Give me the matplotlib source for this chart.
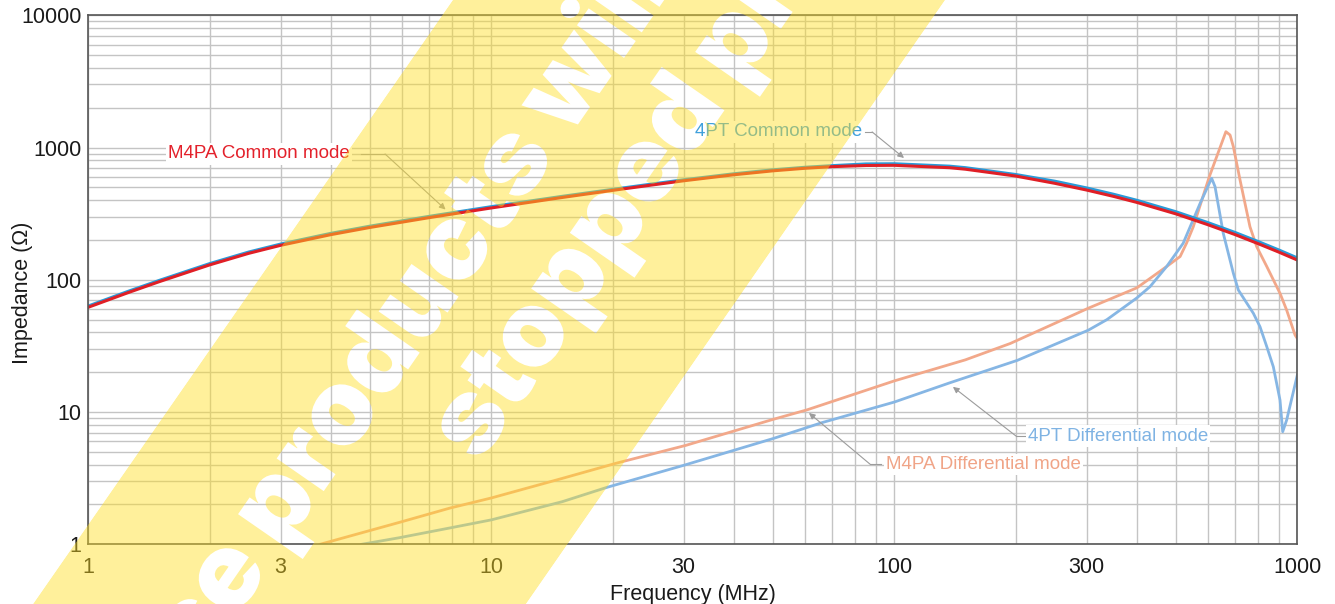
import numpy as np
import matplotlib
matplotlib.use('Agg')
import matplotlib.pyplot as plt
from matplotlib.ticker import FixedLocator, FixedFormatter, LogLocator, NullFormatter
from matplotlib.textpath import TextPath
from matplotlib.font_manager import FontProperties
from matplotlib.path import Path
from matplotlib.patches import PathPatch
import matplotlib.transforms as mtransforms

plt.rcParams['font.family'] = ['Liberation Sans', 'DejaVu Sans']

# ---------------- data ----------------
cm_freq = [1, 1.25, 1.5, 2, 2.5, 3, 4, 5, 7, 10, 15, 20, 25, 30, 40, 50, 60, 70, 85, 100,
           137, 150, 200, 250, 300, 350, 400, 500, 600, 700, 800, 900, 1000]
cm_m4pa = [62.0, 79.6, 96.8, 129.6, 158.5, 182.2, 219.6, 248.8, 294.9, 349.4, 419.3, 474.5, 520.6, 560.6,
           622.7, 667, 697, 717, 731.6, 734, 704, 686, 609, 536.7, 477.2, 427.3, 384.6, 315, 261, 220,
           187.5, 161.9, 141.1]
cm_4pt = [63.2, 81.2, 98.7, 132.2, 161.7, 185.8, 224, 253.8, 300.8, 356.4, 426.6, 481.6, 528.4, 569,
          632, 677, 707.5, 727.8, 750, 752.4, 721.6, 703, 624, 555.5, 493.9, 442.3, 398, 326, 270, 227.7,
          194, 167.6, 146]

dm_m4pa_freq = [3.76, 5.94, 7.9, 10, 15, 20.4, 30.4, 50, 60.8, 100, 150, 194, 303, 400, 474, 512, 531, 552,
                605, 665, 681, 694, 721, 763, 793, 840, 906, 941, 987, 1000]
dm_m4pa = [1, 1.47, 1.88, 2.24, 3.15, 4.1, 5.6, 8.8, 10.4, 17.2, 24.8, 33, 61, 87, 126, 150, 189, 252,
           603, 1318, 1244, 1015, 568, 252, 178, 126, 79, 59, 38.3, 36]

dm_4pt_freq = [4.77, 5.9, 7.9, 10, 15, 19.4, 30.4, 50, 66, 100, 137, 202, 303, 337, 400, 431, 474, 521, 574,
               613, 625, 655, 694, 714, 778, 808, 840, 872, 906, 920, 941, 1000]
dm_4pt = [1, 1.12, 1.33, 1.53, 2.1, 2.7, 4.0, 6.3, 8.3, 11.9, 16.6, 24.6, 41.6, 50, 73, 88.7, 126, 189, 379,
          586, 506, 225, 112, 83.7, 55.8, 44.2, 31.2, 22, 12.3, 7.1, 8.7, 19]

x_ticks = [1, 3, 10, 30, 100, 300, 1000]
x_ticklabels = ['1', '3', '10', '30', '100', '300', '1000']
y_ticks = [1, 10, 100, 1000, 10000]
y_ticklabels = ['1', '10', '100', '1000', '10000']

labels = ['M4PA Common mode', '4PT Common mode', '4PT Differential mode', 'M4PA Differential mode']
watermark_lines = ['These products will be', 'stopped production']

# ---------------- figure ----------------
W, H = 1335, 604
fig = plt.figure(figsize=(W / 100, H / 100), dpi=100)
L, R, T, B = 88.3, 1297.3, 15.3, 544.3
ax = fig.add_axes([L / W, 1 - B / H, (R - L) / W, (B - T) / H])
ax.set_xscale('log')
ax.set_yscale('log')
ax.set_xlim(1, 1000)
ax.set_ylim(1, 10000)

ax.xaxis.set_major_locator(FixedLocator(x_ticks))
ax.xaxis.set_major_formatter(FixedFormatter(x_ticklabels))
ax.xaxis.set_minor_locator(LogLocator(base=10, subs=np.arange(2, 10)))
ax.xaxis.set_minor_formatter(NullFormatter())
ax.yaxis.set_major_locator(FixedLocator(y_ticks))
ax.yaxis.set_major_formatter(FixedFormatter(y_ticklabels))
ax.yaxis.set_minor_locator(LogLocator(base=10, subs=np.arange(2, 10)))
ax.yaxis.set_minor_formatter(NullFormatter())

ax.grid(which='both', color='#c4c4c4', lw=1.0)
ax.set_axisbelow(True)
ax.tick_params(which='both', length=0, labelsize=15.5, colors='#1a1a1a')
ax.tick_params(axis='x', pad=9)
ax.tick_params(axis='y', pad=5)
for sp in ax.spines.values():
    sp.set_color('#555555')
    sp.set_linewidth(1.2)

ax.set_xlabel('Frequency (MHz)', fontsize=15.5, color='#1a1a1a')
ax.set_ylabel('Impedance (Ω)', fontsize=15.5, color='#1a1a1a')
ax.xaxis.set_label_coords(0.5, -0.075)
ax.yaxis.set_label_coords(-0.046, 0.475)

# curves
ax.plot(dm_m4pa_freq, dm_m4pa, color='#f2a88a', lw=2.0, zorder=2)
ax.plot(dm_4pt_freq, dm_4pt, color='#86b6e4', lw=2.0, zorder=2.1)
ax.plot(cm_freq, cm_4pt, color='#2a9ad8', lw=2.4, zorder=2.2)
ax.plot(cm_freq, cm_m4pa, color='#e01f26', lw=2.2, zorder=2.3)

# callouts
def callout(text, color, txy, line_from, corner, tip):
    ax.text(txy[0], txy[1], text, color=color, fontsize=13.5, ha='left', va='center',
            bbox=dict(facecolor='white', edgecolor='none', pad=1.5), zorder=4)
    ax.plot([line_from, corner[0]], [corner[1], corner[1]], color='#9c9c9c', lw=0.8, zorder=3)
    ax.annotate('', xy=tip, xytext=corner,
                arrowprops=dict(arrowstyle='-|>', color='#9c9c9c', lw=0.8,
                                shrinkA=0, shrinkB=0, mutation_scale=9), zorder=3)

callout(labels[0], '#e3212b', (1.58, 894), 4.75, (5.45, 894), (7.7, 340))
callout(labels[1], '#3fa0dc', (32.0, 1312), 84.5, (88.1, 1312), (105.7, 834))
callout(labels[2], '#7fb3e3', (214.7, 6.59), 211, (200.4, 6.59), (139.8, 15.5))
callout(labels[3], '#f0a487', (95.4, 4.03), 92.7, (87.1, 4.03), (61.4, 9.84))

# ---------------- watermark: translucent yellow band with knocked-out text ----------------
band_img = [(-8.7, 664), (484.4, 664), (986.8, -60), (494.5, -60)]
band_disp = [(x, H - y) for x, y in band_img]          # counter-clockwise in display coords

fp = FontProperties(family='Inter', weight='black')
fs = 105
ang = 55.27
rot = mtransforms.Affine2D().rotate_deg(ang)
anchors = [(6, (287.0, 512.0)), (0, (473.0, 423.0))]   # (glyph index, glyph centre in image px)


def glyph_center(s, idx):
    e_ch = TextPath((0, 0), s[idx], size=fs, prop=fp).get_extents()
    e_pre = TextPath((0, 0), s[:idx + 1], size=fs, prop=fp).get_extents()
    adv = e_pre.x1 - e_ch.x1
    return np.array([adv + (e_ch.x0 + e_ch.x1) / 2, (e_ch.y0 + e_ch.y1) / 2])


def signed_area(path):
    tot = 0.0
    for poly in path.to_polygons(closed_only=True):
        x, y = poly[:, 0], poly[:, 1]
        tot += 0.5 * np.sum(x * np.roll(y, -1) - np.roll(x, -1) * y)
    return tot


text_paths = []
for s, (idx, (tx, ty)) in zip(watermark_lines, anchors):
    tp = TextPath((0, 0), s, size=fs, prop=fp)
    c = rot.transform(glyph_center(s, idx))
    ox, oy = tx - c[0], (H - ty) - c[1]
    tr = mtransforms.Affine2D().rotate_deg(ang).translate(ox, oy)
    text_paths.append(tr.transform_path(tp))

txt_area = sum(signed_area(p) for p in text_paths)
pts = band_disp if txt_area < 0 else band_disp[::-1]
band_path = Path(pts + [pts[0]], [Path.MOVETO, Path.LINETO, Path.LINETO, Path.LINETO, Path.CLOSEPOLY])

compound = Path.make_compound_path(band_path, *text_paths)
patch = PathPatch(compound, facecolor=(1, 222 / 255, 33 / 255, 0.45), edgecolor='none',
                  transform=mtransforms.IdentityTransform(), zorder=10)
patch.set_clip_path(band_path, mtransforms.IdentityTransform())
fig.add_artist(patch)

fig.savefig('out.png', dpi=100)
